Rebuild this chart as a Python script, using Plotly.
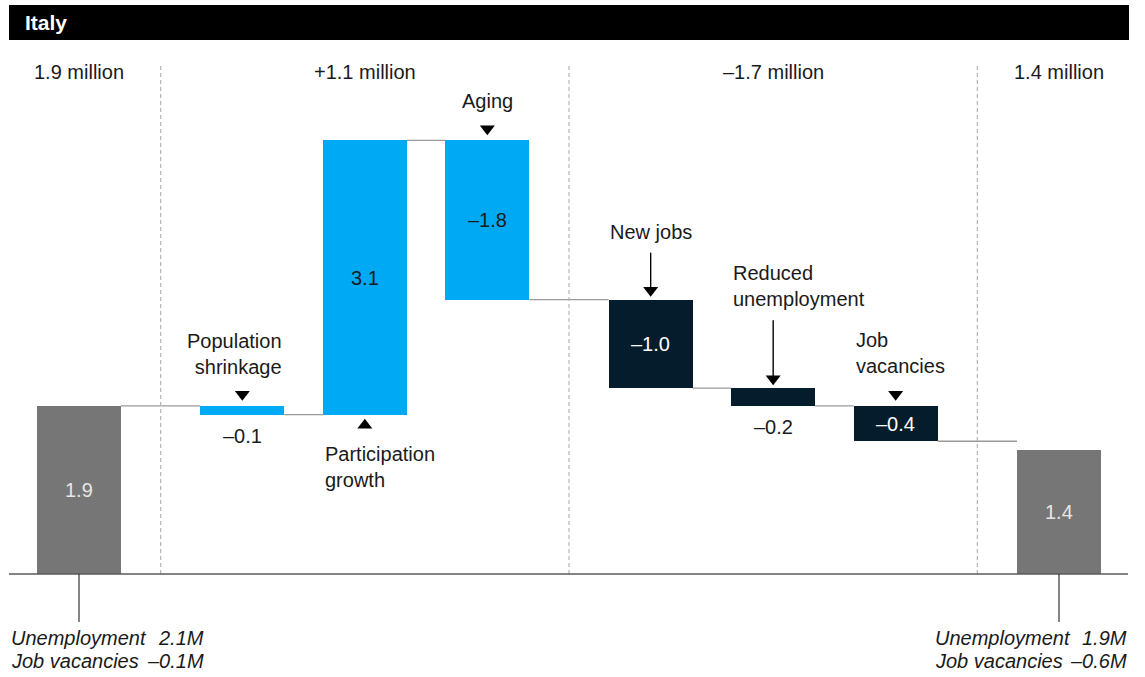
import plotly.graph_objects as go

# ---------------- data ----------------
region = "Italy"
step_names = ["", "Population<br>shrinkage", "Participation<br>growth", "Aging",
              "New jobs", "Reduced<br>unemployment", "Job<br>vacancies", ""]
start_total = 1.9
drivers = [-0.1, 3.1, -1.8, -1.0, -0.2, -0.4]
end_total = 1.4
group_headers = ["1.9 million", "+1.1 million", "\u20131.7 million", "1.4 million"]
group_sizes = [1, 3, 3, 1]
start_notes = [("Unemployment", "2.1M"), ("Job vacancies", "\u20130.1M")]
end_notes = [("Unemployment", "1.9M"), ("Job vacancies", "\u20130.6M")]

# ---------------- styling ----------------
GRAY, BLUE, NAVY = "#767676", "#00A9F4", "#051C2C"
TEXT = "#1a1a1a"
FONT = "Liberation Sans, Arial, Helvetica, sans-serif"
FS = 20
W_PX, H_PX = 1145, 677
PX = 122.5          # pixels per x unit
PY = 88.5           # pixels per y unit
X0_PX, Y0_PX = 79, 574   # pixel location of first bar centre / zero line
BAR_W = 84 / PX
ux, uy = 1 / PX, 1 / PY
TRI = 13

bar_colors = [GRAY] + [BLUE] * 3 + [NAVY] * 3 + [GRAY]

# ---------------- geometry from data ----------------
positions, groups = [], []
x = 0.0
for gi, n in enumerate(group_sizes):
    groups.append([])
    for _ in range(n):
        positions.append(x)
        groups[-1].append(x)
        x += 1
    x += 1 / 3

heights = [start_total] + drivers + [end_total]
bases = [0.0]
level = start_total
levels_after = [start_total]
for d in drivers:
    bases.append(level)
    level = round(level + d, 6)
    levels_after.append(level)
bases.append(0.0)


def fmt(v):
    return f"{v:.1f}".replace("-", "\u2013")


fig = go.Figure()

fig.add_trace(go.Bar(
    x=positions, y=heights, base=bases, width=BAR_W,
    marker=dict(color=bar_colors, line=dict(width=0)),
    hoverinfo="skip", showlegend=False,
))

# connectors between consecutive bars
cx, cy = [], []
for i in range(len(positions) - 1):
    cx += [positions[i] + BAR_W / 2, positions[i + 1] - BAR_W / 2, None]
    cy += [levels_after[i], levels_after[i], None]
fig.add_trace(go.Scatter(x=cx, y=cy, mode="lines",
                         line=dict(color="#9a9a9a", width=1.3),
                         hoverinfo="skip", showlegend=False))

shapes = []
annotations = []

# group separators
for a, b in zip(groups[:-1], groups[1:]):
    sx = (a[-1] + b[0]) / 2
    shapes.append(dict(type="line", xref="x", yref="y", x0=sx, x1=sx,
                       y0=0, y1=(Y0_PX - 63) * uy,
                       line=dict(color="#b5b5b5", width=1.2, dash="4px,3px")))

# group headers
for g, text in zip(groups, group_headers):
    annotations.append(dict(x=sum(g) / len(g), y=(Y0_PX - 72) * uy, text=text,
                            showarrow=False, xanchor="center", yanchor="middle",
                            font=dict(size=FS, color=TEXT)))

# baseline
shapes.append(dict(type="line", xref="x", yref="y",
                   x0=(9 - X0_PX) * ux, x1=(1128 - X0_PX) * ux, y0=0, y1=0,
                   line=dict(color="#5a5a5a", width=1.3)))

# drop lines under the totals
for p in (positions[0], positions[-1]):
    shapes.append(dict(type="line", xref="x", yref="y", x0=p, x1=p,
                       y0=0, y1=-(622 - Y0_PX) * uy,
                       line=dict(color="#333333", width=1.2)))

# value labels
label_mode = ["inside", "below", "inside", "inside", "inside", "below", "inside", "inside"]
label_color = ["#e6e6e6", TEXT, TEXT, TEXT, "white", TEXT, "white", "#e6e6e6"]
for i, (p, b, h) in enumerate(zip(positions, bases, heights)):
    lo, hi = min(b, b + h), max(b, b + h)
    if label_mode[i] == "inside":
        ly = (lo + hi) / 2
    else:
        ly = lo - 21 * uy
    annotations.append(dict(x=p, y=ly, text=fmt(h), showarrow=False,
                            xanchor="center", yanchor="middle",
                            font=dict(size=FS, color=label_color[i])))

# step names and pointers
tri_x, tri_y, tri_sym = [], [], []
stem_x, stem_y = [], []
name_spec = {
    1: ("right", "above", 52),
    2: ("left", "below", 52),
    3: ("center", "above", 39),
    4: ("center", "above", 68),
    5: ("left", "above", 102),
    6: ("left", "above", 53),
}
pointer_spec = {1: ("down", 0), 2: ("up", 0), 3: ("down", 0),
                4: ("long", 47), 5: ("long", 68), 6: ("down", 0)}
for i, (anchor, side, off) in name_spec.items():
    p, b, h = positions[i], bases[i], heights[i]
    top, bottom = max(b, b + h), min(b, b + h)
    if anchor == "right":
        tx = p + BAR_W / 2
    elif anchor == "left":
        tx = p - BAR_W / 2
    else:
        tx = p
    ty = top + off * uy if side == "above" else bottom - off * uy
    annotations.append(dict(x=tx, y=ty, text=step_names[i], showarrow=False,
                            xanchor=anchor, yanchor="middle", align=anchor,
                            font=dict(size=FS, color=TEXT)))

    kind, stem = pointer_spec[i]
    if kind == "down":
        tri_x.append(p); tri_y.append(top + 11.5 * uy)
        tri_sym.append("triangle-down")
    elif kind == "up":
        tri_x.append(p); tri_y.append(bottom - 10.5 * uy)
        tri_sym.append("triangle-up")
    else:
        head = top + 9.5 * uy
        stem_x += [p, p, None]
        stem_y += [top + stem * uy, head, None]
        tri_x.append(p); tri_y.append(head)
        tri_sym.append("triangle-down")

fig.add_trace(go.Scatter(x=stem_x, y=stem_y, mode="lines",
                         line=dict(color="black", width=1.4),
                         hoverinfo="skip", showlegend=False))
fig.add_trace(go.Scatter(x=tri_x, y=tri_y, mode="markers",
                         marker=dict(symbol=tri_sym, size=TRI, color="black",
                                     line=dict(width=0)),
                         hoverinfo="skip", showlegend=False))

# unemployment / vacancy notes under the totals
note_rows = [(Y0_PX - 638) * uy, (Y0_PX - 661) * uy]
for (lab, val), ny in zip(start_notes, note_rows):
    annotations.append(dict(x=(9 - X0_PX) * ux, y=ny, text=f"<i>{lab}</i>", showarrow=False,
                            xanchor="left", yanchor="middle",
                            font=dict(size=FS, color=TEXT)))
    annotations.append(dict(x=(206 - X0_PX) * ux, y=ny, text=f"<i>{val}</i>", showarrow=False,
                            xanchor="right", yanchor="middle",
                            font=dict(size=FS, color=TEXT)))
for (lab, val), ny in zip(end_notes, note_rows):
    annotations.append(dict(x=(933 - X0_PX) * ux, y=ny, text=f"<i>{lab}</i>", showarrow=False,
                            xanchor="left", yanchor="middle",
                            font=dict(size=FS, color=TEXT)))
    annotations.append(dict(x=(1129 - X0_PX) * ux, y=ny, text=f"<i>{val}</i>", showarrow=False,
                            xanchor="right", yanchor="middle",
                            font=dict(size=FS, color=TEXT)))

# title band
shapes.append(dict(type="rect", xref="paper", yref="paper",
                   x0=9 / W_PX, x1=1129 / W_PX, y0=1 - 40 / H_PX, y1=1 - 5 / H_PX,
                   fillcolor="black", line=dict(width=0), layer="below"))
annotations.append(dict(xref="paper", yref="paper", x=23 / W_PX, y=1 - 22.5 / H_PX,
                        text=f"<b>{region}</b>", showarrow=False,
                        xanchor="left", yanchor="middle",
                        font=dict(size=21, color="white")))

fig.update_layout(
    width=W_PX, height=H_PX,
    margin=dict(l=0, r=0, t=0, b=0),
    paper_bgcolor="white", plot_bgcolor="white",
    font=dict(family=FONT, size=FS, color=TEXT),
    xaxis=dict(range=[-X0_PX * ux, (W_PX - X0_PX) * ux], visible=False, fixedrange=True),
    yaxis=dict(range=[-(H_PX - Y0_PX) * uy, Y0_PX * uy], visible=False, fixedrange=True),
    shapes=shapes, annotations=annotations,
    bargap=0, showlegend=False,
)

fig.write_html("out.html")
